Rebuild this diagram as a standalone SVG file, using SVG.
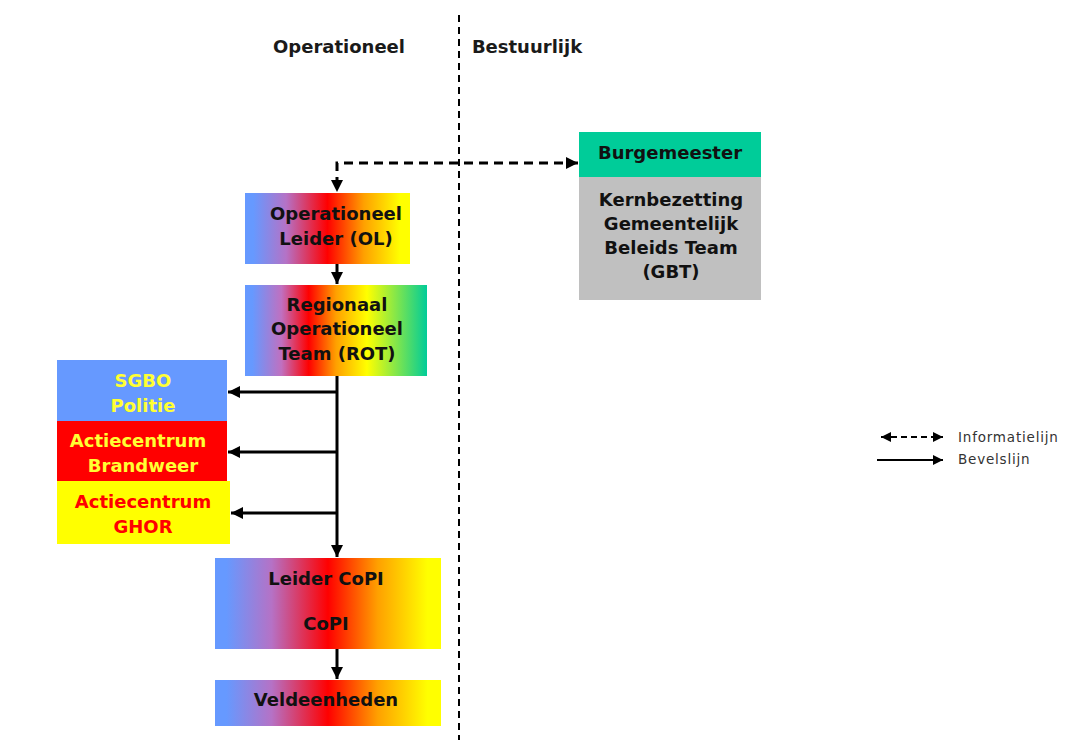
<svg xmlns="http://www.w3.org/2000/svg" width="1089" height="740" viewBox="0 0 1089 740">
<style>
.t{font-family:"DejaVu Sans","Verdana",sans-serif;font-weight:bold;font-size:18px;text-anchor:middle;fill:#111}
.y{fill:#FFFF33}
.r{fill:#FF0000}
.h{font-family:"DejaVu Sans","Verdana",sans-serif;font-weight:bold;font-size:18px;fill:#1a1a1a;text-anchor:middle}
.lg{font-family:"DejaVu Sans","Verdana",sans-serif;font-size:13.5px;fill:#333;letter-spacing:0.8px}
.ln{stroke:#000;stroke-width:3;fill:none}
.ds{stroke-dasharray:9,6}
</style>
<defs>
<linearGradient id="g1" x1="0" x2="1" y1="0" y2="0">
<stop offset="0.05" stop-color="#6699FF"/>
<stop offset="0.25" stop-color="#B572C6"/>
<stop offset="0.5" stop-color="#FF0000"/>
<stop offset="0.72" stop-color="#FFA000"/>
<stop offset="0.94" stop-color="#FFFF00"/>
</linearGradient>
<linearGradient id="g2" x1="0" x2="1" y1="0" y2="0">
<stop offset="0.04" stop-color="#6699FF"/>
<stop offset="0.2" stop-color="#C070C0"/>
<stop offset="0.35" stop-color="#FF0000"/>
<stop offset="0.5" stop-color="#FFA000"/>
<stop offset="0.67" stop-color="#FFFF00"/>
<stop offset="1" stop-color="#00CC99"/>
</linearGradient>
<marker id="ah" viewBox="0 0 10 10" refX="10" refY="5" markerWidth="12" markerHeight="12" markerUnits="userSpaceOnUse" orient="auto-start-reverse">
<path d="M0,0 L10,5 L0,10 Z" fill="#000"/>
</marker>
<marker id="ahs" viewBox="0 0 10 10" refX="10" refY="5" markerWidth="10" markerHeight="10" markerUnits="userSpaceOnUse" orient="auto-start-reverse">
<path d="M0,0 L10,5 L0,10 Z" fill="#000"/>
</marker>
</defs>

<line x1="459" y1="15" x2="459" y2="740" stroke="#000" stroke-width="2" stroke-dasharray="7,5"/>
<text class="h" x="339" y="53">Operationeel</text>
<text class="h" x="527" y="53">Bestuurlijk</text>

<g id="connectors">
<path class="ln ds" d="M578,163 L337,163 L337,192" marker-start="url(#ah)" marker-end="url(#ah)"/>
<path class="ln" d="M337,264 L337,284" marker-end="url(#ah)"/>
<path class="ln" d="M337,376 L337,557" marker-end="url(#ah)"/>
<path class="ln" d="M337,392 L228,392" marker-end="url(#ah)"/>
<path class="ln" d="M337,452 L228,452" marker-end="url(#ah)"/>
<path class="ln" d="M337,513 L231,513" marker-end="url(#ah)"/>
<path class="ln" d="M337,649 L337,679" marker-end="url(#ah)"/>
</g>

<g id="burgemeester">
<rect x="579" y="132" width="182" height="45" fill="#00CC99"/>
<text class="t" x="670" y="159">Burgemeester</text>
</g>
<g id="gbt">
<rect x="579" y="177" width="182" height="123" fill="#C0C0C0"/>
<text class="t" x="671" y="206">Kernbezetting</text>
<text class="t" x="671" y="230">Gemeentelijk</text>
<text class="t" x="671" y="254">Beleids Team</text>
<text class="t" x="671" y="278">(GBT)</text>
</g>
<g id="ol">
<rect x="245" y="193" width="165" height="71" fill="url(#g1)"/>
<text class="t" x="336" y="220">Operationeel</text>
<text class="t" x="336" y="245">Leider (OL)</text>
</g>
<g id="rot">
<rect x="245" y="285" width="182" height="91" fill="url(#g2)"/>
<text class="t" x="337" y="311">Regionaal</text>
<text class="t" x="337" y="335">Operationeel</text>
<text class="t" x="337" y="360">Team (ROT)</text>
</g>
<g id="sgbo">
<rect x="57" y="360" width="170" height="61" fill="#6699FF"/>
<text class="t y" x="143" y="387">SGBO</text>
<text class="t y" x="143" y="412">Politie</text>
</g>
<g id="brandweer">
<rect x="57" y="421" width="170" height="60" fill="#FF0000"/>
<text class="t y" x="138" y="447">Actiecentrum</text>
<text class="t y" x="143" y="472">Brandweer</text>
</g>
<g id="ghor">
<rect x="57" y="481" width="173" height="63" fill="#FFFF00"/>
<text class="t r" x="143" y="508">Actiecentrum</text>
<text class="t r" x="143" y="533">GHOR</text>
</g>
<g id="copi">
<rect x="215" y="558" width="226" height="91" fill="url(#g1)"/>
<text class="t" x="326" y="585">Leider CoPI</text>
<text class="t" x="326" y="630">CoPI</text>
</g>
<g id="veldeenheden">
<rect x="215" y="680" width="226" height="46" fill="url(#g1)"/>
<text class="t" x="326" y="706">Veldeenheden</text>
</g>

<g id="legend">
<path class="ln" d="M881,437 L943,437" marker-start="url(#ahs)" marker-end="url(#ahs)" style="stroke-width:2;stroke-dasharray:6,4"/>
<path class="ln" d="M877,460 L943,460" marker-end="url(#ahs)" style="stroke-width:2"/>
<text class="lg" x="958" y="442">Informatielijn</text>
<text class="lg" x="958" y="464">Bevelslijn</text>
</g>
</svg>
